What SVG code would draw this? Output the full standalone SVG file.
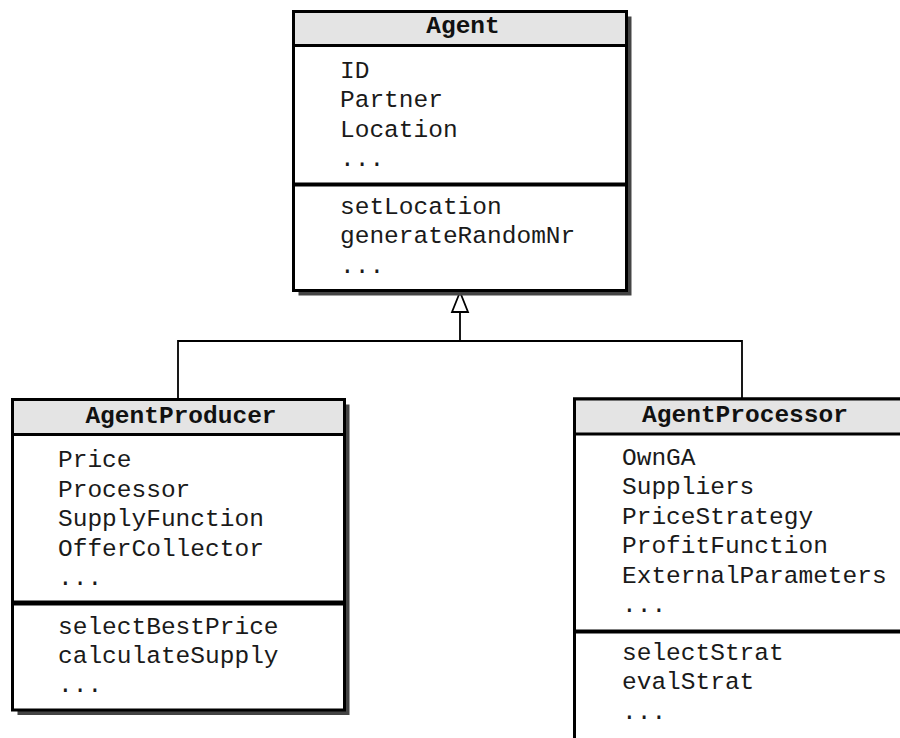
<svg xmlns="http://www.w3.org/2000/svg" width="900" height="738" viewBox="0 0 900 738">
<style>
.shadow{fill:#444;stroke:none}
.box{fill:#fff;stroke:#000;stroke-width:3}
.head{fill:#e4e4e4;stroke:#000;stroke-width:3}
.div{stroke:#000;stroke-width:4}
.t{font-family:"Liberation Mono","Courier New",monospace;font-size:24.5px;fill:#1a1a1a}
.title{font-family:"Liberation Mono","Courier New",monospace;font-size:24.5px;font-weight:bold;fill:#111;text-anchor:middle}
.conn{fill:none;stroke:#000;stroke-width:1.8}
</style>
<rect width="900" height="738" fill="#fff"/>
<g id="connectors">
<polyline class="conn" points="178,398 178,341 742,341 742,398"/>
<line class="conn" x1="460" y1="341" x2="460" y2="312"/>
<polygon points="460,292 452,312 468,312" fill="#fff" stroke="#000" stroke-width="1.8"/>
</g>
<g id="agent">
<rect class="shadow" x="298.5" y="16.5" width="333" height="279"/>
<rect class="box" x="293.5" y="11.5" width="333" height="279"/>
<rect class="head" x="293.5" y="11.5" width="333" height="34"/>
<line class="div" x1="293.5" y1="184.5" x2="626.5" y2="184.5"/>
<text class="title" x="463" y="33">Agent</text>
<text class="t" x="340" y="77.5">ID</text>
<text class="t" x="340" y="107">Partner</text>
<text class="t" x="340" y="136.5">Location</text>
<text class="t" x="340" y="166">...</text>
<text class="t" x="340" y="213.5">setLocation</text>
<text class="t" x="340" y="243">generateRandomNr</text>
<text class="t" x="340" y="272.5">...</text>
</g>
<g id="agentProducer">
<rect class="shadow" x="17.5" y="404.5" width="332" height="310.5"/>
<rect class="box" x="12.5" y="399.5" width="332" height="310.5"/>
<rect class="head" x="12.5" y="399.5" width="332" height="35"/>
<line class="div" x1="12.5" y1="603" x2="344.5" y2="603" style="stroke-width:5"/>
<text class="title" x="181" y="423">AgentProducer</text>
<text class="t" x="58" y="467">Price</text>
<text class="t" x="58" y="496.5">Processor</text>
<text class="t" x="58" y="526">SupplyFunction</text>
<text class="t" x="58" y="555.5">OfferCollector</text>
<text class="t" x="58" y="585">...</text>
<text class="t" x="58" y="633.5">selectBestPrice</text>
<text class="t" x="58" y="662.5">calculateSupply</text>
<text class="t" x="58" y="692">...</text>
</g>
<g id="agentProcessor">
<rect class="shadow" x="579.5" y="404" width="345" height="360"/>
<rect class="box" x="574.5" y="399" width="345" height="360"/>
<rect class="head" x="574.5" y="399" width="345" height="35"/>
<line class="div" x1="574.5" y1="631.5" x2="919.5" y2="631.5"/>
<text class="title" x="745" y="422">AgentProcessor</text>
<text class="t" x="622" y="465">OwnGA</text>
<text class="t" x="622" y="494">Suppliers</text>
<text class="t" x="622" y="523.5">PriceStrategy</text>
<text class="t" x="622" y="553">ProfitFunction</text>
<text class="t" x="622" y="582.5">ExternalParameters</text>
<text class="t" x="622" y="611.5">...</text>
<text class="t" x="622" y="659.5">selectStrat</text>
<text class="t" x="622" y="689">evalStrat</text>
<text class="t" x="622" y="719">...</text>
</g>
</svg>
